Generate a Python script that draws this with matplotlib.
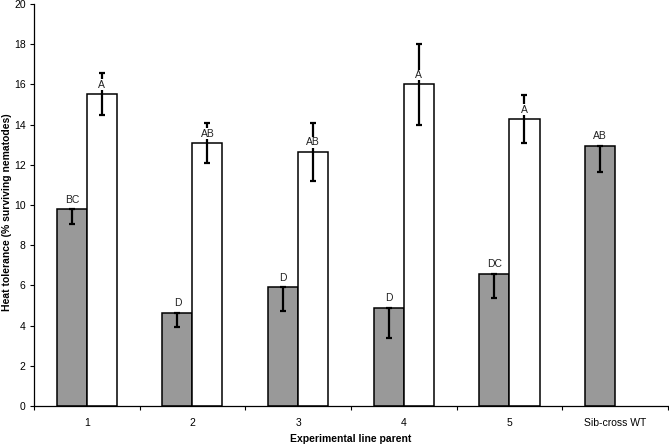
import numpy as np
import matplotlib.pyplot as plt

plt.rcParams["font.family"] = ["Liberation Sans", "DejaVu Sans"]

# data
groups = ["1", "2", "3", "4", "5", "Sib-cross WT"]
grey_vals = [9.8, 4.63, 5.92, 4.88, 6.57, 12.94]
grey_err = [0.75, 0.7, 1.2, 1.5, 1.2, 1.3]
grey_labels = ["BC", "D", "D", "D", "DC", "AB"]
white_vals = [15.52, 13.08, 12.64, 16.0, 14.28]
white_err = [1.05, 0.98, 1.45, 2.0, 1.2]
white_labels = ["A", "AB", "AB", "A", "A"]


def main():
    fig = plt.figure(figsize=(6.69, 4.44), dpi=100)
    ax = fig.add_axes([0.0508, 0.0856, 0.9477, 0.9054])

    centers = np.arange(len(groups)) + 0.5
    w = 0.284
    gx = centers - w / 2
    wx = centers[:len(white_vals)] + w / 2

    ax.bar(gx, grey_vals, width=w, color="#999999", edgecolor="black", linewidth=1.1, zorder=2)
    ax.bar(wx, white_vals, width=w, color="white", edgecolor="black", linewidth=1.1, zorder=2)

    # grey bars: minus error only; white bars: both directions
    ax.errorbar(gx, grey_vals, yerr=[grey_err, np.zeros(len(grey_err))], fmt="none",
                ecolor="black", elinewidth=1.6, capsize=2.2, capthick=1.6, zorder=3)
    ax.errorbar(wx, white_vals, yerr=white_err, fmt="none",
                ecolor="black", elinewidth=1.6, capsize=2.2, capthick=1.6, zorder=3)

    for x, v, t in zip(gx, grey_vals, grey_labels):
        ax.text(x, v + 0.47, t, ha="center", va="center", fontsize=7.5, color="#222222",
                zorder=4, bbox=dict(facecolor="white", edgecolor="none", pad=0.3))
    for x, v, t in zip(wx, white_vals, white_labels):
        ax.text(x, v + 0.47, t, ha="center", va="center", fontsize=7.5, color="#222222",
                zorder=4, bbox=dict(facecolor="white", edgecolor="none", pad=0.3))

    ax.set_xlim(0, len(groups))
    ax.set_ylim(0, 20)
    ax.set_yticks(np.arange(0, 21, 2))
    ax.set_xticks(np.arange(0, len(groups) + 1))
    ax.set_xticklabels([])
    ax.set_xticks(centers, minor=True)
    ax.set_xticklabels(groups, minor=True)
    ax.tick_params(axis="x", which="minor", length=0, pad=9, labelsize=7.5)
    ax.tick_params(axis="x", which="major", length=3, width=0.8)
    ax.tick_params(axis="y", length=3, width=0.8, labelsize=7.5, pad=3)

    for s in ["top", "right"]:
        ax.spines[s].set_visible(False)
    ax.spines["left"].set_linewidth(0.9)
    ax.spines["bottom"].set_linewidth(0.9)

    ax.set_xlabel("Experimental line parent", fontsize=7.5, fontweight="bold", labelpad=4)
    fig.text(7 / 669, 0.522, "Heat tolerance (% surviving nematodes)", rotation=90,
             ha="center", va="center", fontsize=7.5, fontweight="bold")

    fig.savefig("out.png", dpi=100)
    plt.close(fig)


if __name__ == "__main__":
    main()
